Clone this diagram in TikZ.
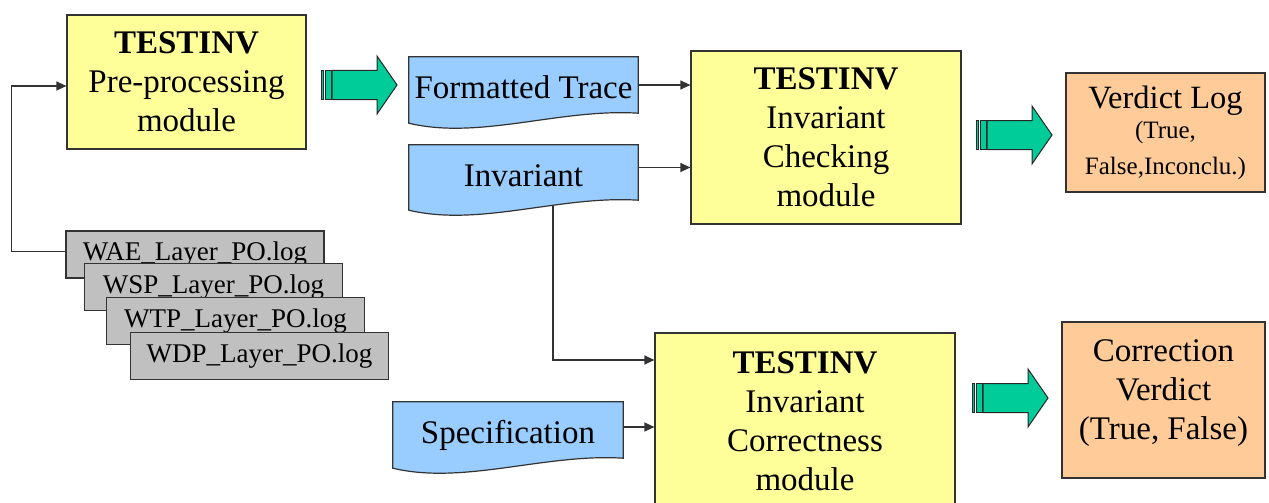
\documentclass[tikz,border=0pt]{standalone}
\usepackage{fontspec}
\setmainfont{Liberation Serif}
\usetikzlibrary{arrows.meta,backgrounds}

\definecolor{modyellow}{HTML}{FFFF99}
\definecolor{docblue}{HTML}{99CCFF}
\definecolor{verdictorange}{HTML}{FFCC99}
\definecolor{loggrey}{HTML}{C0C0C0}
\definecolor{fatgreen}{HTML}{00CC99}
\definecolor{edge}{HTML}{333333}

% document shape with a wavy bottom, drawn behind a docbox node
\newcommand{\wavydoc}[1]{%
	\filldraw[docedge] (#1.north west) -- (#1.north east) -- (#1.south east)
		.. controls +(-78,-5) and +(71,17) .. ([yshift=-10pt]#1.south west) -- cycle;}
% fat striped arrow, starting at the tail of its shaft
\newcommand{\fatarrow}[1]{%
	\filldraw[fatarrow] (#1) ++(0,-14.5) -- ++(45,0) -- ++(0,-14.5) -- ++(20,29) -- ++(-20,29) -- ++(0,-14.5) -- ++(-45,0) -- cycle;
	\filldraw[fatarrow] ([xshift=-7pt,yshift=14.5pt]#1) rectangle ([xshift=-1pt,yshift=-14.5pt]#1);
	\filldraw[fatarrow] ([xshift=-11pt,yshift=14.5pt]#1) rectangle ([xshift=-8.5pt,yshift=-14.5pt]#1);}

\begin{document}
\begin{tikzpicture}[
		x=1pt, y=-1pt,
		module/.style={rectangle, draw=edge, fill=modyellow, line width=1.2pt, align=center, inner sep=0pt, font=\fontsize{33}{39}\selectfont},
		docbox/.style={rectangle, align=center, inner sep=0pt, minimum width=229pt, minimum height=56pt, text height=27pt, text depth=0pt, font=\fontsize{33}{39}\selectfont},
		docedge/.style={draw=edge, fill=docblue, line width=1.2pt},
		verdict/.style={rectangle, draw=edge, fill=verdictorange, line width=1.2pt, align=center, inner sep=0pt},
		logfile/.style={rectangle, draw=edge, fill=loggrey, line width=1.2pt, minimum width=258pt, minimum height=47pt, inner sep=0pt, font=\fontsize{27}{32}\selectfont},
		fatarrow/.style={draw=black!85, fill=fatgreen, line width=1pt},
		conn/.style={-{Triangle[length=10pt,width=9pt]}, draw=edge, line width=1.2pt}
	]
		\useasboundingbox (0,0) rectangle (1269,503);

		% Modules
		\node[module, minimum width=239pt, minimum height=134pt] (pre) at (186.5,82) {\textbf{TESTINV}\\Pre-processing\\module};
		\node[module, minimum width=270pt, minimum height=173pt] (check) at (826,137.5) {\textbf{TESTINV}\\Invariant\\Checking\\module};
		\node[module, minimum width=300pt, minimum height=177pt] (corr) at (805,421.5) {\textbf{TESTINV}\\Invariant\\Correctness\\module};

		% Documents
		\node[docbox] (trace) at (523.5,85) {Formatted Trace};
		\node[docbox, minimum height=55pt] (inv) at (523.5,172.5) {Invariant};
		\node[docbox, minimum width=230pt] (spec) at (508,430) {Specification};
		\begin{scope}[on background layer]
			\wavydoc{trace}
			\wavydoc{inv}
			\wavydoc{spec}
		\end{scope}

		% Verdicts
		\node[verdict, minimum width=199pt, minimum height=119pt, font=\fontsize{25}{30}\selectfont] (vlog) at (1165.5,132.5) {{\fontsize{32.5}{34}\selectfont Verdict Log}\\(True,\\[6pt]False,Inconclu.)};
		\node[verdict, minimum width=203pt, minimum height=156pt, font=\fontsize{33}{39}\selectfont] (cverdict) at (1163.5,400) {Correction\\Verdict\\(True, False)\\[-18pt]\mbox{}};

		% Log files
		\node[logfile] (wae) at (195,254.5) {WAE\_Layer\_PO.log};
		\node[logfile] (wsp) at (213.5,287) {WSP\_Layer\_PO.log};
		\node[logfile] (wtp) at (235.5,321) {WTP\_Layer\_PO.log};
		\node[logfile] (wdp) at (259.5,356) {WDP\_Layer\_PO.log};

		% Fat arrows
		\coordinate (pre2trace) at (332,85);
		\coordinate (check2vlog) at (987,135);
		\coordinate (corr2cverdict) at (983,398);
		\fatarrow{pre2trace}
		\fatarrow{check2vlog}
		\fatarrow{corr2cverdict}

		% Arrows
		\draw[conn] ([yshift=3pt]wae.west) -- ++(-54,0) |- ([yshift=-4pt]pre.west);
		\draw[conn] (trace.east) -- (trace.east -| check.west);
		\draw[conn] ([yshift=5pt]inv.east) -- ([yshift=5pt]inv.east -| check.west);
		\draw[conn] ([xshift=29.5pt,yshift=-5pt]inv.south) |- ([yshift=61.5pt]corr.west);
		\draw[conn] ([yshift=3pt]spec.east) -- ([yshift=3pt]spec.east -| corr.west);
	\end{tikzpicture}
\end{document}
